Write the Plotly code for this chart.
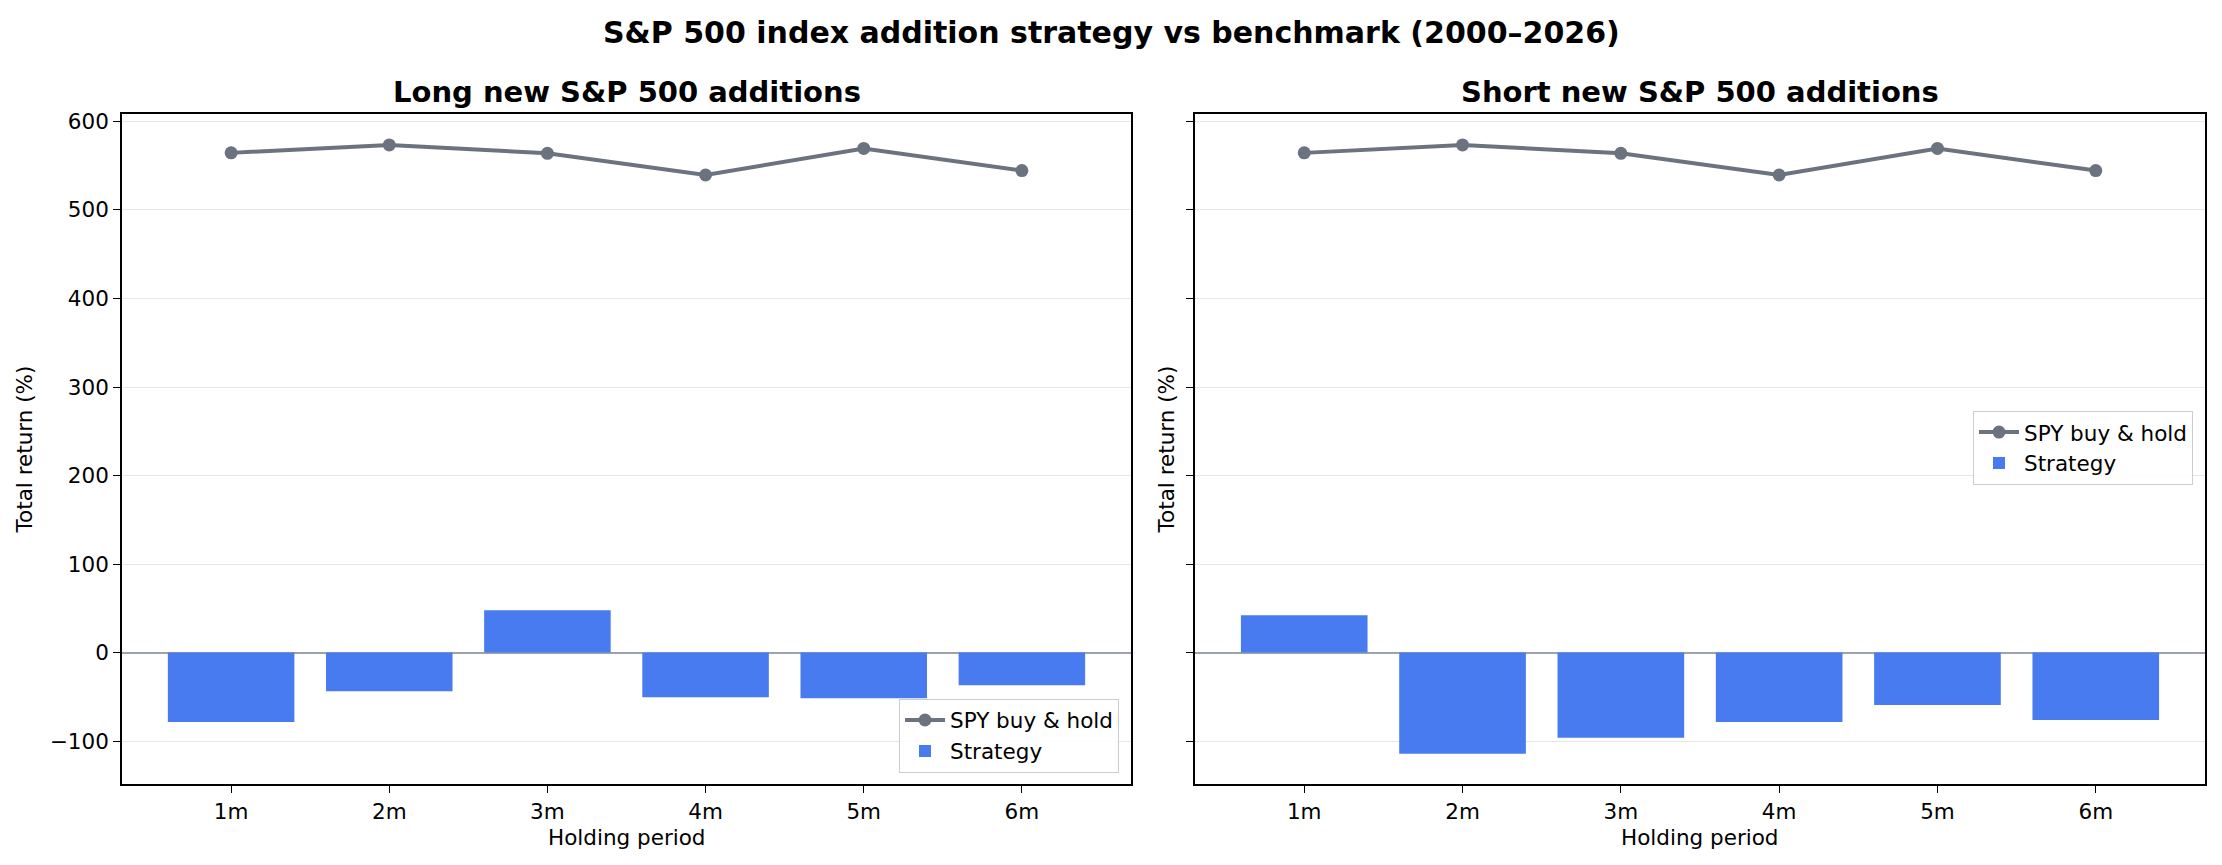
import plotly.graph_objects as go

periods = ["1m", "2m", "3m", "4m", "5m", "6m"]
spy_total = [564.5, 573.5, 564.0, 539.5, 569.5, 544.5]
long_strategy = [-78.4, -43.7, 47.8, -50.4, -51.5, -36.9]
short_strategy = [42.2, -114.2, -96.3, -78.4, -59.3, -76.1]

W, H = 2222, 865
FONT = "DejaVu Sans"
BAR = "#477BEF"
LINE = "#6B7280"
FS = 21.5

def px_x(v):
    return v / W

def px_y(v):
    return (H - v) / H

fig = go.Figure()

panels = [
    ("x", "y", long_strategy, "legend"),
    ("x2", "y2", short_strategy, "legend2"),
]
for xa, ya, strat, leg in panels:
    fig.add_trace(go.Bar(
        x=periods, y=strat, xaxis=xa, yaxis=ya, name="Strategy",
        marker=dict(color=BAR, line=dict(width=0)), width=0.8,
        legend=leg, legendrank=2,
    ))
    fig.add_trace(go.Scatter(
        x=periods, y=spy_total, xaxis=xa, yaxis=ya, name="SPY buy & hold",
        mode="lines+markers", line=dict(color=LINE, width=4),
        marker=dict(color=LINE, size=13), legend=leg, legendrank=1,
    ))

xdom1 = [px_x(122), px_x(1131)]
xdom2 = [px_x(1195), px_x(2205)]
ydom = [px_y(784), px_y(110)]

axis_common = dict(
    showline=True, mirror=True, linecolor="black", linewidth=1.6,
    ticks="outside", ticklen=7, tickwidth=1.4, tickcolor="black",
    tickfont=dict(family=FONT, size=FS, color="black"),
    layer="above traces",
)
yr = [-149, 608]
leg_common = dict(
    bgcolor="rgba(255,255,255,0.85)", bordercolor="#CCCCCC", borderwidth=1,
    font=dict(family=FONT, size=FS, color="black"), itemwidth=40,
    tracegroupgap=0,
)
fig.update_layout(
    width=W, height=H,
    margin=dict(l=0, r=0, t=0, b=0),
    paper_bgcolor="white", plot_bgcolor="white",
    showlegend=True,
    xaxis=dict(domain=xdom1, anchor="y", type="category", range=[-0.69, 5.69],
               showgrid=False, **axis_common),
    xaxis2=dict(domain=xdom2, anchor="y2", type="category", range=[-0.69, 5.69],
                showgrid=False, **axis_common),
    yaxis=dict(domain=ydom, anchor="x", range=yr, dtick=100, tick0=0,
               showgrid=True, gridcolor="#E6E6E6", gridwidth=1.2,
               zeroline=True, zerolinecolor="#9CA3AF", zerolinewidth=2,
               **axis_common),
    yaxis2=dict(domain=ydom, anchor="x2", range=yr, dtick=100, tick0=0,
                showgrid=True, gridcolor="#E6E6E6", gridwidth=1.2,
                zeroline=True, zerolinecolor="#9CA3AF", zerolinewidth=2,
                showticklabels=False, **axis_common),
    legend=dict(x=px_x(1119), y=px_y(772), xanchor="right", yanchor="bottom", **leg_common),
    legend2=dict(x=px_x(2193), y=px_y(408), xanchor="right", yanchor="top", **leg_common),
)

annotations = [
    dict(text="<b>S&P 500 index addition strategy vs benchmark (2000–2026)</b>",
         x=0.5, y=px_y(28), font=dict(size=30)),
    dict(text="<b>Long new S&P 500 additions</b>",
         x=(xdom1[0] + xdom1[1]) / 2, y=px_y(88), font=dict(size=29)),
    dict(text="<b>Short new S&P 500 additions</b>",
         x=(xdom2[0] + xdom2[1]) / 2, y=px_y(88), font=dict(size=29)),
    dict(text="Holding period", x=(xdom1[0] + xdom1[1]) / 2, y=px_y(837), font=dict(size=FS)),
    dict(text="Holding period", x=(xdom2[0] + xdom2[1]) / 2, y=px_y(837), font=dict(size=FS)),
    dict(text="Total return (%)", x=px_x(24), y=(ydom[0] + ydom[1]) / 2, textangle=-90, font=dict(size=FS)),
    dict(text="Total return (%)", x=px_x(1166), y=(ydom[0] + ydom[1]) / 2, textangle=-90, font=dict(size=FS)),
]
for a in annotations:
    a.update(xref="paper", yref="paper", showarrow=False, xanchor="center", yanchor="middle")
    a["font"].update(family=FONT, color="black")
fig.update_layout(annotations=annotations)

fig.write_html("out.html")
